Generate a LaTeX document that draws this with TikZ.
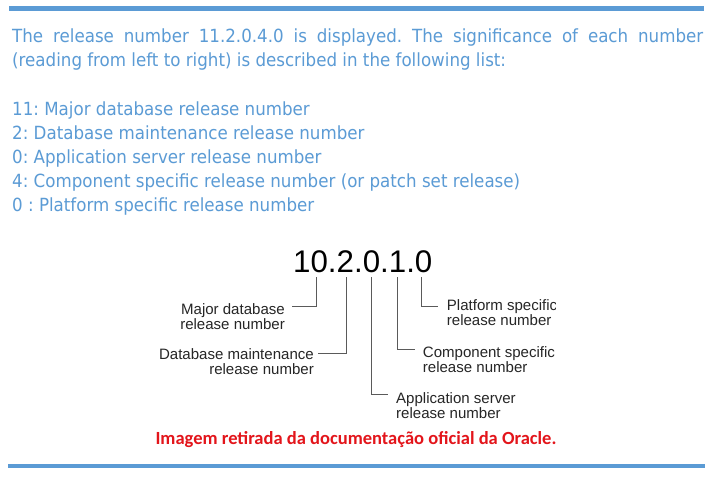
\documentclass[tikz,border=0pt]{standalone}
\usepackage{fontspec}
\newfontfamily\bodyfont[FakeStretch=0.92]{DejaVu Sans}
\newfontfamily\diagfont{Liberation Sans}
\newfontfamily\notefont{Carlito}
\definecolor{wordblue}{HTML}{5B9BD5}
\definecolor{notered}{HTML}{E3151B}
\definecolor{linkgray}{HTML}{5A5A5A}
\definecolor{labgray}{HTML}{262626}
\tikzset{
  rule/.style={draw=wordblue, line width=4.2bp},
  para/.style={inner sep=0pt, anchor=base west, text=wordblue, font=\bodyfont\fontsize{18.2}{24}\selectfont},
  bignum/.style={inner sep=0pt, anchor=base west, text=black, font=\diagfont\fontsize{31.4}{31}\selectfont},
  lab/.style={inner sep=0pt, text=labgray, font=\diagfont\fontsize{15.1}{15}\selectfont},
  link/.style={draw=linkgray, line width=1bp},
  note/.style={inner sep=0pt, anchor=base, text=notered, font=\notefont\bfseries\fontsize{18.6}{18}\selectfont}
}
\frenchspacing
\begin{document}
\begin{tikzpicture}[x=1bp, y=-1bp]
\useasboundingbox (0,0) rectangle (710,480);
\fill[white] (0,0) rectangle (710,480);
% rules
\coordinate (rt1) at (9,8.5);
\coordinate (rt2) at (704,8.5);
\coordinate (rb1) at (8,466);
\coordinate (rb2) at (705,466);
\draw[rule] (rt1) -- (rt2);
\draw[rule] (rb1) -- (rb2);
% paragraph
\node[para] (p1) at (12,43) {\frenchspacing\makebox[691bp][s]{The release number 11.2.0.4.0 is displayed. The significance of each number}};
\node[para] (p2) at (12,67) {(reading from left to right) is described in the following list:};
\node[para] (l1) at (12,115.7) {11: Major database release number};
\node[para] (l2) at (12,139.6) {2: Database maintenance release number};
\node[para] (l3) at (12,163.5) {0: Application server release number};
\node[para] (l4) at (12,187.4) {4: Component specific release number (or patch set release)};
\node[para] (l5) at (12,211.3) {0 : Platform specific release number};
% diagram
\begin{scope}
\clip (159,235) rectangle (555.5,425);
\node[bignum] (ver) at (293,273) {10.2.0.1.0};
\coordinate (d1) at (316,277);
\coordinate (d2) at (346,277);
\coordinate (d3) at (371,277);
\coordinate (d4) at (397,277);
\coordinate (d5) at (421,277);
\coordinate (e1) at (292,306);
\coordinate (e2) at (318,353);
\coordinate (e3) at (388,394);
\coordinate (e4) at (415,349);
\coordinate (e5) at (438,306);
\draw[link] (d1) |- (e1);
\draw[link] (d2) |- (e2);
\draw[link] (d3) |- (e3);
\draw[link] (d4) |- (e4);
\draw[link] (d5) |- (e5);
\node[lab, anchor=east, align=right] (t1) at (285,317) {Major database\\release number};
\node[lab, anchor=east, align=right] (t2) at (314,362) {Database maintenance\\release number};
\node[lab, anchor=west, align=left] (t3) at (396,405.5) {Application server\\release number};
\node[lab, anchor=west, align=left] (t4) at (422.7,359.7) {Component specific\\release number};
\node[lab, anchor=west, align=left] (t5) at (446.7,312.5) {Platform specific\\release number};
\end{scope}
\node[note] (src) at (356,444) {Imagem retirada da documentação oficial da Oracle.};
\end{tikzpicture}
\end{document}
